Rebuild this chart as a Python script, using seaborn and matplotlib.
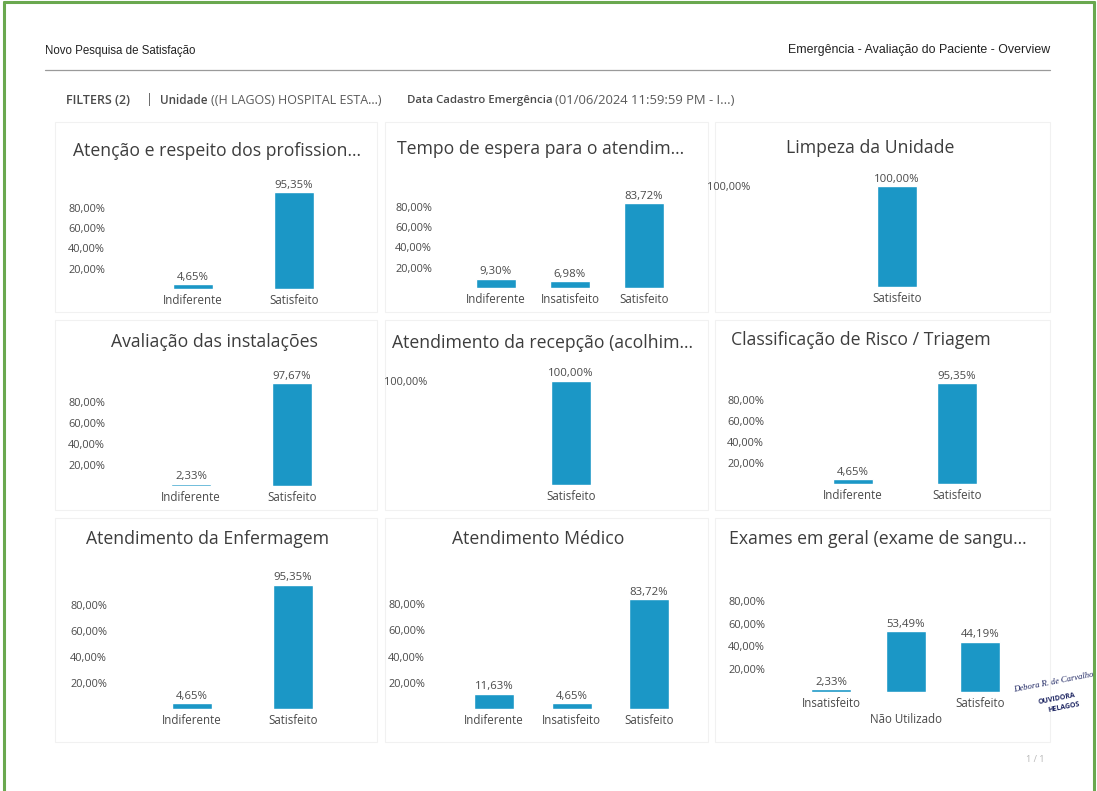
import matplotlib
matplotlib.use("Agg")
import matplotlib.pyplot as plt
import pandas as pd
import seaborn as sns
from matplotlib.lines import Line2D
from matplotlib.patches import Rectangle
from matplotlib.ticker import FixedLocator, FuncFormatter

# ---------------------------------------------------------------- data
titles = [
    "Atenção e respeito dos profission...",
    "Tempo de espera para o atendim...",
    "Limpeza da Unidade",
    "Avaliação das instalações",
    "Atendimento da recepção (acolhim...",
    "Classificação de Risco / Triagem",
    "Atendimento da Enfermagem",
    "Atendimento Médico",
    "Exames em geral (exame de sangu...",
]
categories = [
    ["Indiferente", "Satisfeito"],
    ["Indiferente", "Insatisfeito", "Satisfeito"],
    ["Satisfeito"],
    ["Indiferente", "Satisfeito"],
    ["Satisfeito"],
    ["Indiferente", "Satisfeito"],
    ["Indiferente", "Satisfeito"],
    ["Indiferente", "Insatisfeito", "Satisfeito"],
    ["Insatisfeito", "Não Utilizado", "Satisfeito"],
]
percentages = [
    [4.65, 95.35],
    [9.30, 6.98, 83.72],
    [100.00],
    [2.33, 97.67],
    [100.00],
    [4.65, 95.35],
    [4.65, 95.35],
    [11.63, 4.65, 83.72],
    [2.33, 53.49, 44.19],
]
multi_ticks = [20, 40, 60, 80]
single_ticks = [100]

header_left = "Novo Pesquisa de Satisfação"
header_right = "Emergência - Avaliação do Paciente - Overview"
filter_parts = [
    ("FILTERS (2)", "semibold", 9.0),
    ("|", "normal", 9.0),
    ("Unidade", "semibold", 8.4),
    ("((H LAGOS) HOSPITAL ESTA...)", "normal", 9.0),
    ("Data Cadastro Emergência", "semibold", 8.2),
    ("(01/06/2024 11:59:59 PM - I...)", "normal", 9.4),
]
page_label = "1 / 1"
signature = "Debora R. de Carvalho"
stamp_lines = ["OUVIDORA", "HELAGOS"]

# ---------------------------------------------------------------- layout (pixels)
W, H = 1097, 791
# left, right, baseline, px per %, y max, first bar centre, bar spacing, title x, title y
panel_px = [
    (110, 365, 289, 1.013, 118, 193, 101, 217, 151),
    (437, 692, 288, 1.015, 118, 496, 74, 541, 149),
    (755, 1030, 287, 1.010, 118, 897, 100, 870, 148),
    (110, 365, 486, 1.052, 118, 191, 101, 214, 342),
    (432, 700, 485, 1.045, 118, 571, 100, 543, 343),
    (769, 1030, 484, 1.056, 118, 853, 104, 861, 340),
    (112, 367, 709, 1.305, 103, 192, 101, 207, 539),
    (430, 695, 709, 1.310, 103, 494, 77.5, 538, 539),
    (770, 1030, 692, 1.140, 100, 831, 74.5, 878, 539),
]
panel_boxes = [  # x0, y0, x1, y1 of the widget cards
    (55, 122, 377, 312), (385, 122, 708, 312), (715, 122, 1050, 312),
    (55, 320, 377, 510), (385, 320, 708, 510), (715, 320, 1050, 510),
    (55, 518, 377, 742), (385, 518, 708, 742), (715, 518, 1050, 742),
]
filter_x = [66, 146, 160, 211, 407, 555]
BAR_PX = 40
BAR_COLOR = "#1b97c6"
TEXT = "#3d3d3d"
AXTXT = "#4a4a4a"
INK = "#1c2461"


def fx(px):
    return px / W


def fy(py):
    return 1 - py / H


def pct(v):
    return f"{v:.2f}".replace(".", ",") + "%"


sns.set_theme(style="white")
plt.rcParams["font.family"] = ["Open Sans", "DejaVu Sans"]

fig = plt.figure(figsize=(W / 100, H / 100), dpi=100)
fig.patch.set_facecolor("white")

# green page frame
green = "#6aa84f"
fig.add_artist(Line2D([fx(4), fx(4)], [0, fy(2)], color=green, lw=2.2))
fig.add_artist(Line2D([fx(4), fx(1094)], [fy(2), fy(2)], color=green, lw=2.2))
fig.add_artist(Line2D([fx(1094), fx(1094)], [0, fy(2)], color=green, lw=2.2))

# page header
hdr_family = ["Liberation Sans", "DejaVu Sans"]
fig.text(fx(45), fy(51), header_left, family=hdr_family, fontsize=8.3,
         color="#222222", va="center", ha="left")
fig.text(fx(1050), fy(50), header_right, family=hdr_family, fontsize=8.9,
         color="#222222", va="center", ha="right")
fig.add_artist(Line2D([fx(45), fx(1050)], [fy(70), fy(70)], color="#9a9a9a", lw=0.9))

# filter bar
for (txt, wt, fs), x in zip(filter_parts, filter_x):
    fig.text(fx(x), fy(100), txt, fontsize=fs, fontweight=wt,
             color="#5a5a5a" if wt == "normal" else "#4a4a4a",
             va="center", ha="left")

# widget cards
for x0, y0, x1, y1 in panel_boxes:
    fig.add_artist(Rectangle((fx(x0), fy(y1)), fx(x1 - x0), (y1 - y0) / H,
                             facecolor="none", edgecolor="#f1f1f1", lw=0.8,
                             zorder=0))

for i, (title, cats, vals) in enumerate(zip(titles, categories, percentages)):
    left, right, base, scale, ymax, c0, sp, tx, ty = panel_px[i]
    top = base - ymax * scale
    ax = fig.add_axes([fx(left), fy(base), fx(right - left), (base - top) / H])
    df = pd.DataFrame({"categoria": cats, "valor": vals})
    sns.barplot(data=df, x="categoria", y="valor", color=BAR_COLOR,
                saturation=1, width=BAR_PX / sp, ax=ax, errorbar=None)
    ax.set_xlim((left - c0) / sp, (right - c0) / sp)
    ax.set_ylim(0, ymax)
    ax.bar_label(ax.containers[0], labels=[pct(v) for v in vals], padding=1,
                 fontsize=8.2, color=AXTXT, clip_on=False)
    ticks = single_ticks if len(cats) == 1 else multi_ticks
    ax.yaxis.set_major_locator(FixedLocator(ticks))
    ax.yaxis.set_major_formatter(FuncFormatter(lambda v, _: pct(v)))
    ax.tick_params(axis="y", length=0, pad=3.5, labelsize=7.9, labelcolor=AXTXT)
    ax.tick_params(axis="x", length=0, pad=3.5, labelsize=8.3, labelcolor=AXTXT)
    ax.set_xlabel("")
    ax.set_ylabel("")
    for s in ax.spines.values():
        s.set_visible(False)
    ax.set_facecolor("none")
    if len(cats) == 3 and cats[1] == "Não Utilizado":
        ax.xaxis.get_major_ticks()[1].set_pad(15)
    fig.text(fx(tx), fy(ty), title, fontsize=12.7, color=TEXT,
             ha="center", va="center")

# signature stamp
fig.text(fx(1014), fy(690), signature, family=["Liberation Serif", "DejaVu Serif"],
         style="italic", fontsize=6.2, color=INK, rotation=11,
         rotation_mode="anchor", ha="left", va="center")
fig.text(fx(1057), fy(699), stamp_lines[0], fontsize=5, color=INK,
         rotation=11, ha="center", va="center", fontweight="bold")
fig.text(fx(1064), fy(707), stamp_lines[1], fontsize=5, color=INK,
         rotation=11, ha="center", va="center", fontweight="bold")

fig.text(fx(1035), fy(760), page_label, fontsize=6.5, color="#b5b5b5",
         ha="center", va="center")

fig.savefig("out.png", dpi=100, facecolor="white")
